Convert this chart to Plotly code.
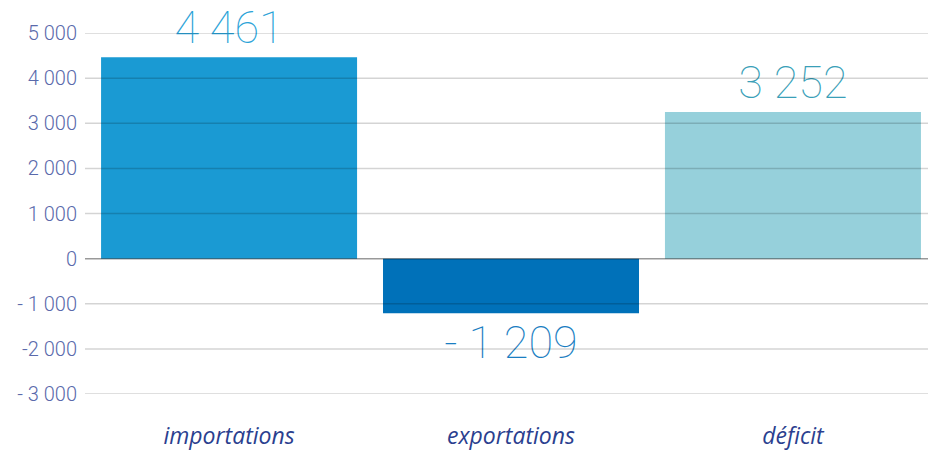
import plotly.graph_objects as go

categories = ["importations", "exportations", "déficit"]
values = [4461, -1209, 3252]
value_labels = ["4 461", "- 1 209", "3 252"]
bar_colors = ["#1a9ad3", "#0071b9", "#96d0db"]
label_colors = ["#2ba3d8", "#1a7ec2", "#3a9fb8"]
tick_vals = [5000, 4000, 3000, 2000, 1000, 0, -1000, -2000, -3000]
tick_text = ["5 000", "4 000", "3 000", "2 000", "1 000", "0", "- 1 000", "-2 000", "- 3 000"]

fig = go.Figure(
    go.Bar(
        x=list(range(len(categories))),
        y=values,
        marker=dict(color=bar_colors, line=dict(width=0)),
        width=0.908,
        text=value_labels,
        textposition="outside",
        textfont=dict(family="Roboto", size=45, color=label_colors, weight=100),
        cliponaxis=False,
        hoverinfo="skip",
    )
)

shapes = []
for v in tick_vals:
    shapes.append(dict(
        type="line", xref="paper", yref="y", x0=0, x1=1, y0=v, y1=v,
        line=dict(color="rgba(0,0,0,0.4)" if v == 0 else "rgba(0,0,0,0.17)", width=1.5),
        layer="above",
    ))

fig.update_layout(
    width=928, height=451,
    margin=dict(l=85, r=0, t=33, b=52),
    paper_bgcolor="white", plot_bgcolor="white",
    showlegend=False,
    shapes=shapes,
    xaxis=dict(
        range=[-0.511, 2.479],
        tickvals=list(range(len(categories))),
        ticktext=[f"<i>{c}</i>" for c in categories],
        tickfont=dict(family="Open Sans", size=23, color="#2b3f8f"),
        showgrid=False, zeroline=False, showline=False, ticks="",
        ticklabelstandoff=26,
    ),
    yaxis=dict(
        range=[-3000, 5000],
        tickvals=tick_vals,
        ticktext=tick_text,
        tickfont=dict(family="Roboto", size=20, color="#5a6aab", weight=300),
        showgrid=False, zeroline=False, showline=False, ticks="",
        ticklabelstandoff=7,
    ),
)

fig.write_html(
    "out.html",
    config={"displayModeBar": False, "staticPlot": True},
    post_script="document.body.style.margin='0';document.body.style.overflow='hidden';",
)
